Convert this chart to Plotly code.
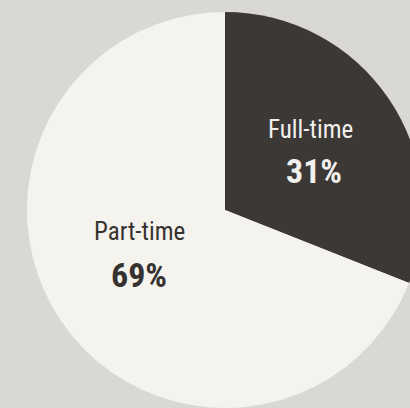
import plotly.graph_objects as go

labels = ["Full-time", "Part-time"]
values = [31, 69]
colors = ["#3c3836", "#f5f3ee"]
text_colors = ["#f2f0ec", "#36322f"]

W, H = 430, 420
cx, cy, r = 225, 210, 198

fig = go.Figure(go.Pie(
    labels=labels, values=values, sort=False, direction="clockwise", rotation=0,
    marker=dict(colors=colors, line=dict(width=0)),
    textinfo="none", hoverinfo="label+percent", showlegend=False,
    domain=dict(x=[(cx - r) / W, (cx + r) / W], y=[1 - (cy + r) / H, 1 - (cy - r) / H]),
))

# label anchors in pixels: (name x, name y, value x, value y)
label_pos = [(310, 129, 313.5, 171), (139.5, 231, 138.5, 275)]
FONT = "Roboto Condensed, Open Sans, Roboto, sans-serif"
for lab, val, tc, (lx, ly, vx, vy) in zip(labels, values, text_colors, label_pos):
    fig.add_annotation(x=lx / W, y=1 - ly / H, xref="paper", yref="paper", showarrow=False,
                       xanchor="center", yanchor="middle",
                       text=lab, font=dict(family=FONT, size=25, color=tc))
    fig.add_annotation(x=vx / W, y=1 - vy / H, xref="paper", yref="paper", showarrow=False,
                       xanchor="center", yanchor="middle",
                       text=f"<b>{val}%</b>", font=dict(family=FONT, size=34, color=tc))

fig.update_layout(width=W, height=H, margin=dict(l=0, r=0, t=0, b=0),
                  paper_bgcolor="#dad8d3")
fig.write_html("out.html", config={"displayModeBar": False},
               post_script="document.body.style.margin='0';document.body.style.background='#dad8d3';")
